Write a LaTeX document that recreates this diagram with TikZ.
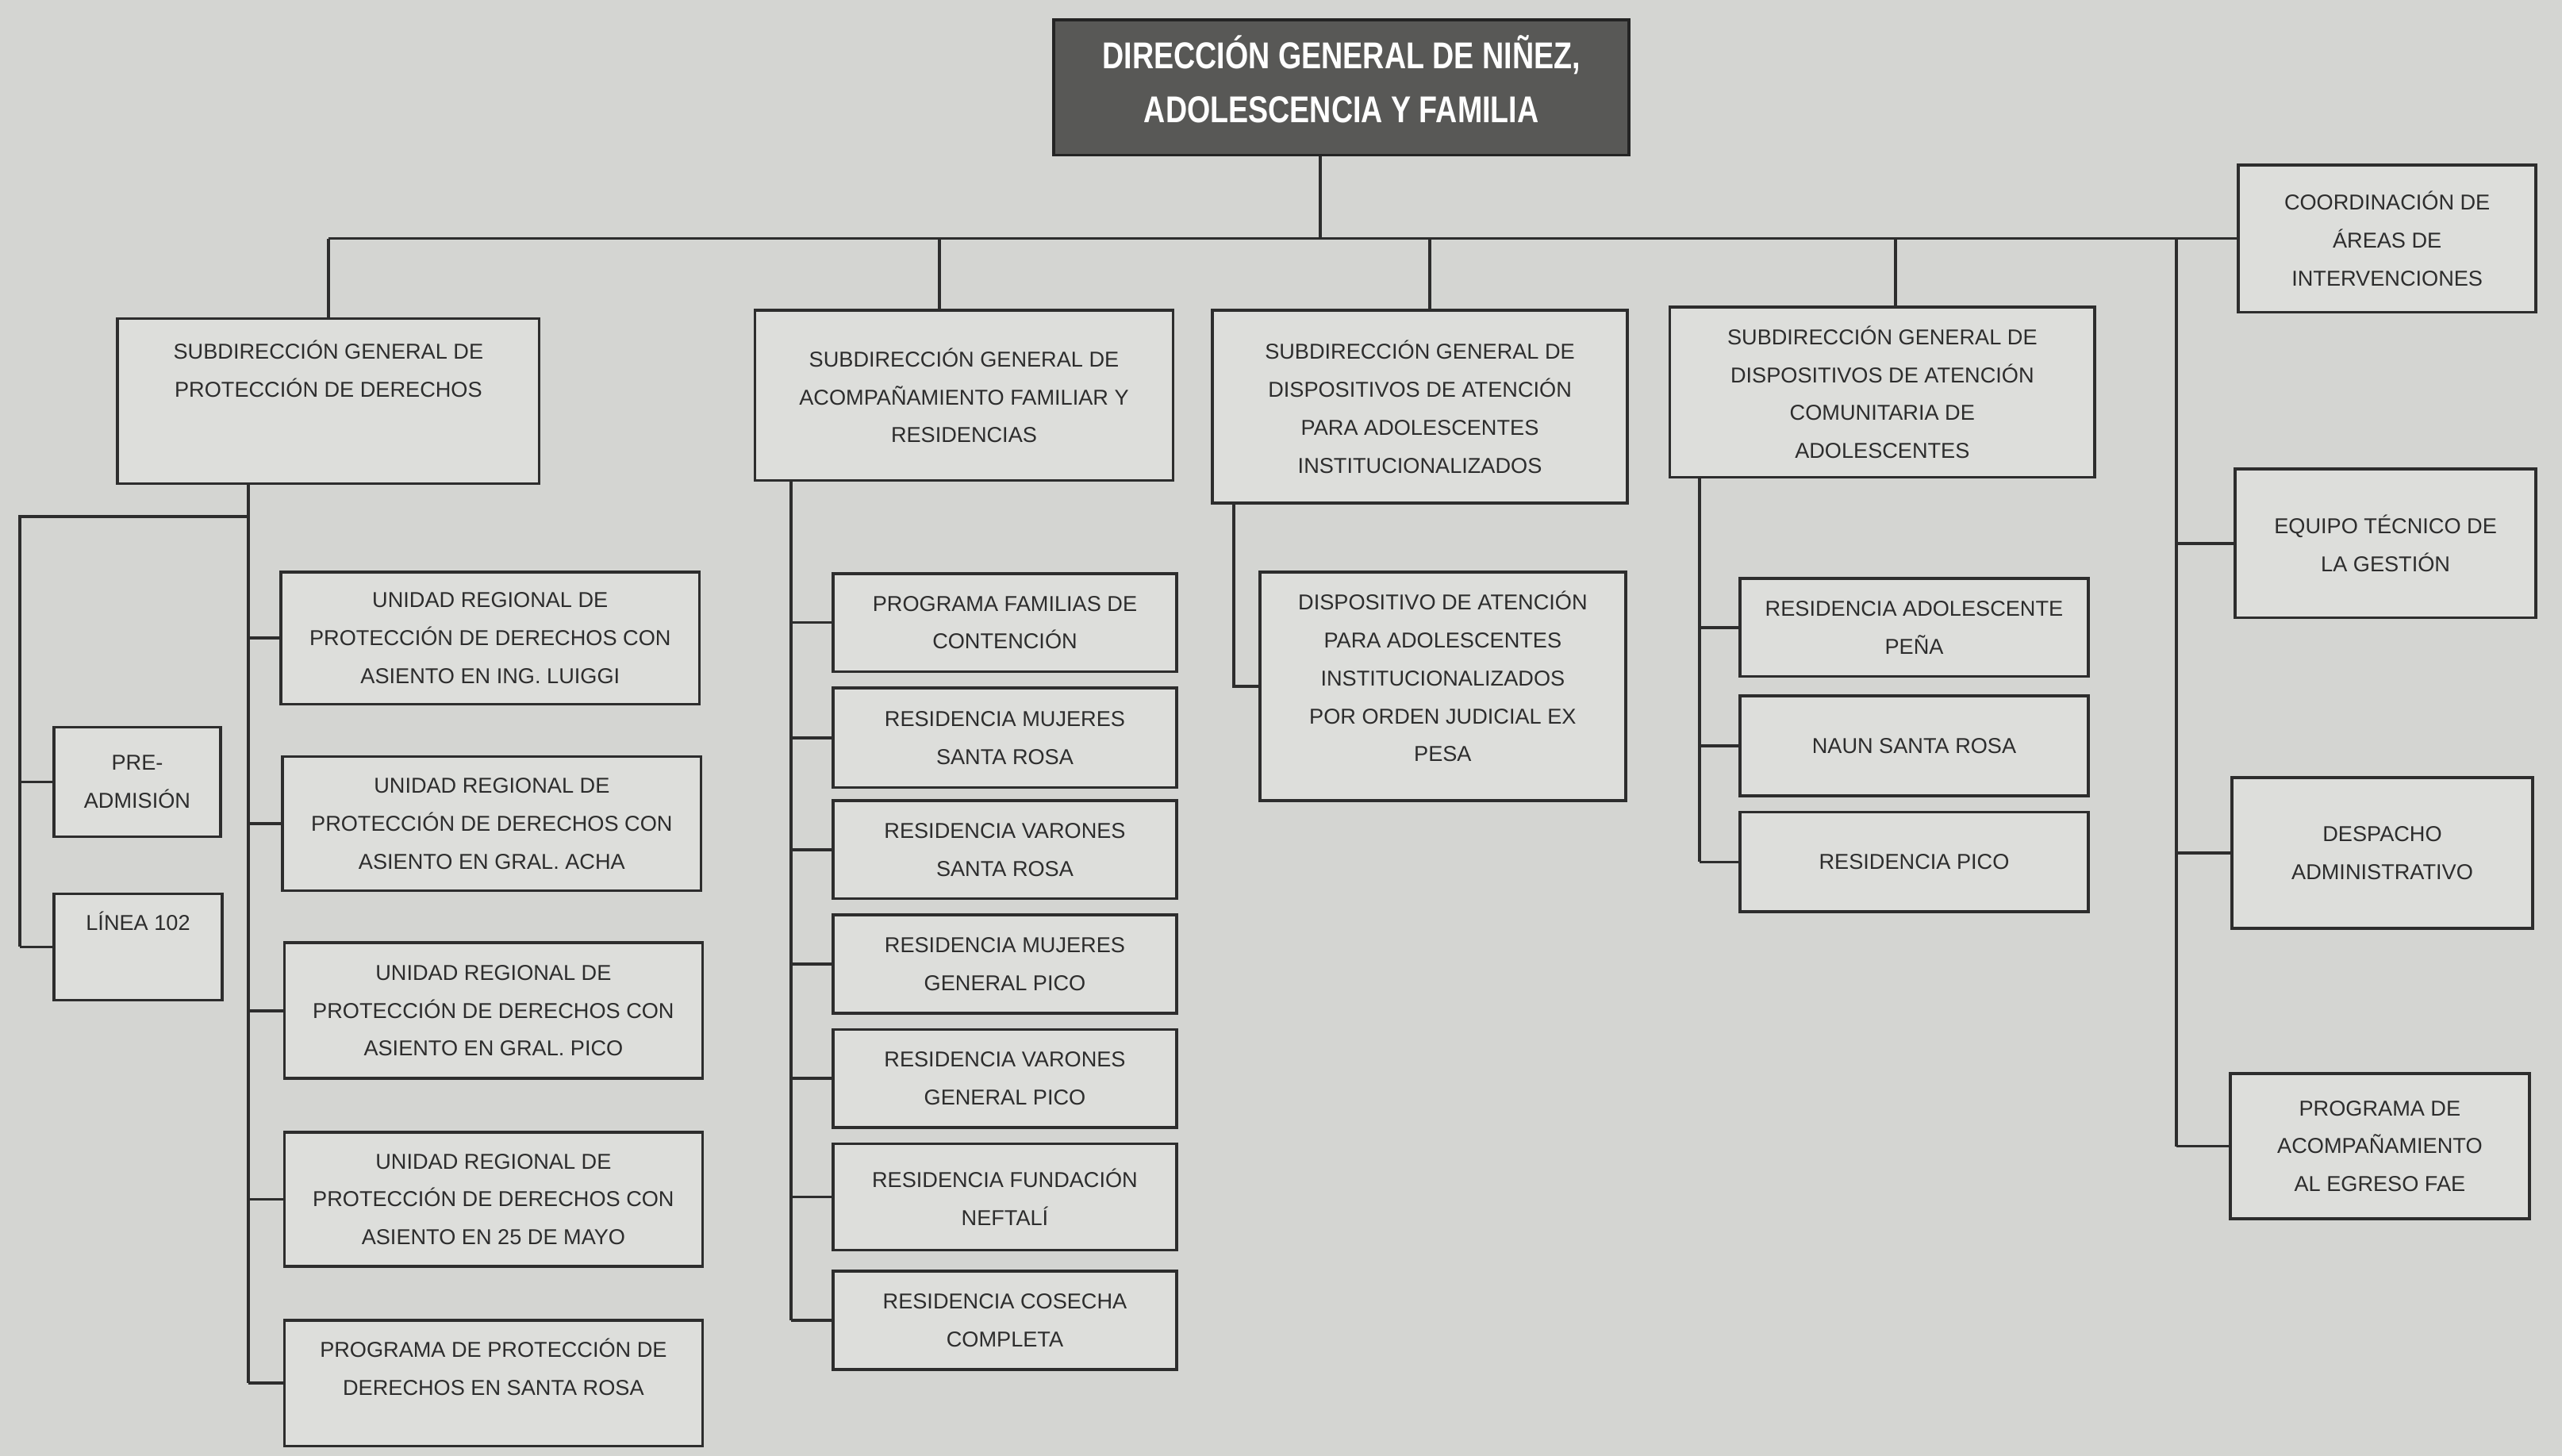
\documentclass[tikz,border=0pt]{standalone}
\usepackage{fontspec}
\setmainfont{Liberation Sans}
\newfontfamily\headfont[FakeStretch=0.8]{Liberation Sans}
\definecolor{paper}{RGB}{212,213,210}
\definecolor{boxfill}{RGB}{221,222,219}
\definecolor{ink}{RGB}{45,45,45}
\definecolor{headfill}{RGB}{88,88,86}
\begin{document}
\begin{tikzpicture}[x=0.2mm, y=-0.2mm, line width=1pt,
  unit/.style={draw=ink, fill=boxfill, align=center, inner sep=0pt,
    text=ink, font=\fontsize{7.5}{13.2}\selectfont},
  size/.style 2 args={minimum width=#1*0.2mm, minimum height=#2*0.2mm},
  link/.style={draw=ink}]
%--- Paper ---
\fill[paper] (0,0) rectangle (1568,891);
\useasboundingbox (0,0) rectangle (1568,891);
\coordinate (bus) at (0,146);
%--- Head of the chart ---
\node[draw=ink!80!black, fill=headfill, size={352}{83}, align=center, text=white,
  text depth=10*0.2mm,
  font=\headfont\bfseries\fontsize{13}{18.8}\selectfont] (dirgen) at (821,53.5)
  {DIRECCIÓN GENERAL DE NIÑEZ,\\ADOLESCENCIA Y FAMILIA};
%--- Subdirecciones ---
\node[unit, size={258}{101}, text depth=40*0.2mm] (subprot) at (201,245.5)
  {SUBDIRECCIÓN GENERAL DE\\PROTECCIÓN DE DERECHOS};
\node[unit, size={256}{104}] (subacomp) at (590,242)
  {SUBDIRECCIÓN GENERAL DE\\ACOMPAÑAMIENTO FAMILIAR Y\\RESIDENCIAS};
\node[unit, size={254}{118}] (subinst) at (869,249)
  {SUBDIRECCIÓN GENERAL DE\\DISPOSITIVOS DE ATENCIÓN\\PARA ADOLESCENTES\\INSTITUCIONALIZADOS};
\node[unit, size={260}{104}] (subcom) at (1152,240)
  {SUBDIRECCIÓN GENERAL DE\\DISPOSITIVOS DE ATENCIÓN\\COMUNITARIA DE\\ADOLESCENTES};
%--- Right column ---
\node[unit, size={182}{90}] (coord) at (1461,146)
  {COORDINACIÓN DE\\ÁREAS DE\\INTERVENCIONES};
\node[unit, size={184}{91}] (equipo) at (1460,332.5)
  {EQUIPO TÉCNICO DE\\LA GESTIÓN};
\node[unit, size={184}{92}] (despacho) at (1458,522)
  {DESPACHO\\ADMINISTRATIVO};
\node[unit, size={183}{89}] (progegreso) at (1456.5,701.5)
  {PROGRAMA DE\\ACOMPAÑAMIENTO\\AL EGRESO FAE};
%--- Protección de derechos ---
\node[unit, size={256}{81}] (uriluiggi) at (300,390.5)
  {UNIDAD REGIONAL DE\\PROTECCIÓN DE DERECHOS CON\\ASIENTO EN ING. LUIGGI};
\node[unit, size={256}{82}] (uracha) at (301,504)
  {UNIDAD REGIONAL DE\\PROTECCIÓN DE DERECHOS CON\\ASIENTO EN GRAL. ACHA};
\node[unit, size={256}{83}] (urpico) at (302,618.5)
  {UNIDAD REGIONAL DE\\PROTECCIÓN DE DERECHOS CON\\ASIENTO EN GRAL. PICO};
\node[unit, size={256}{82}] (urmayo) at (302,734)
  {UNIDAD REGIONAL DE\\PROTECCIÓN DE DERECHOS CON\\ASIENTO EN 25 DE MAYO};
\node[unit, size={256}{77}, text depth=20*0.2mm] (progsr) at (302,846.5)
  {PROGRAMA DE PROTECCIÓN DE\\DERECHOS EN SANTA ROSA};
\node[unit, size={102}{67}] (preadm) at (84,478.5) {PRE-\\ADMISIÓN};
\node[unit, size={103}{65}, text depth=32*0.2mm] (linea) at (84.5,579.5) {LÍNEA 102};
%--- Acompañamiento familiar y residencias ---
\node[unit, size={210}{60}] (famcont) at (615,381) {PROGRAMA FAMILIAS DE\\CONTENCIÓN};
\node[unit, size={210}{61}] (resmsr) at (615,451.5) {RESIDENCIA MUJERES\\SANTA ROSA};
\node[unit, size={210}{60}] (resvsr) at (615,520) {RESIDENCIA VARONES\\SANTA ROSA};
\node[unit, size={210}{60}] (resmgp) at (615,590) {RESIDENCIA MUJERES\\GENERAL PICO};
\node[unit, size={210}{60}] (resvgp) at (615,660) {RESIDENCIA VARONES\\GENERAL PICO};
\node[unit, size={210}{65}] (resfund) at (615,732.5) {RESIDENCIA FUNDACIÓN\\NEFTALÍ};
\node[unit, size={210}{60}] (rescos) at (615,808) {RESIDENCIA COSECHA\\COMPLETA};
%--- Adolescentes institucionalizados ---
\node[unit, size={224}{140}, text depth=12*0.2mm] (dispjud) at (883,420)
  {DISPOSITIVO DE ATENCIÓN\\PARA ADOLESCENTES\\INSTITUCIONALIZADOS\\POR ORDEN JUDICIAL EX\\PESA};
%--- Atención comunitaria ---
\node[unit, size={213}{60}] (resadol) at (1171.5,384) {RESIDENCIA ADOLESCENTE\\PEÑA};
\node[unit, size={213}{61}] (naun) at (1171.5,456.5) {NAUN SANTA ROSA};
\node[unit, size={213}{61}] (respico) at (1171.5,527.5) {RESIDENCIA PICO};
%--- Connectors ---
\coordinate (protspine) at (152,0);
\coordinate (leftspine) at (12,316);
\coordinate (acompspine) at (484,0);
\coordinate (instspine) at (755,0);
\coordinate (comspine) at (1040,0);
\coordinate (rightspine) at (1332,0);
\draw[link] ([xshift=-2.6mm]dirgen.south) -- ([xshift=-2.6mm]dirgen.south |- bus);
\draw[link] (subprot.north |- bus) -- (coord.west);
\draw[link] (subprot.north |- bus) -- (subprot.north);
\draw[link] ([xshift=-3mm]subacomp.north |- bus) -- ([xshift=-3mm]subacomp.north);
\draw[link] ([xshift=1.2mm]subinst.north |- bus) -- ([xshift=1.2mm]subinst.north);
\draw[link] ([xshift=1.6mm]subcom.north |- bus) -- ([xshift=1.6mm]subcom.north);
% right column
\draw[link] (rightspine |- bus) -- (rightspine |- progegreso.west);
\foreach \n in {equipo,despacho,progegreso}
  \draw[link] (rightspine |- \n.west) -- (\n.west);
% protección
\draw[link] (protspine |- subprot.south) -- (protspine |- progsr.west);
\foreach \n in {uriluiggi,uracha,urpico,urmayo,progsr}
  \draw[link] (protspine |- \n.west) -- (\n.west);
\draw[link] (protspine |- leftspine) -- (leftspine) -- (leftspine |- linea.west);
\foreach \n in {preadm,linea}
  \draw[link] (leftspine |- \n.west) -- (\n.west);
% acompañamiento
\draw[link] (acompspine |- subacomp.south) -- (acompspine |- rescos.west);
\foreach \n in {famcont,resmsr,resvsr,resmgp,resvgp,resfund,rescos}
  \draw[link] (acompspine |- \n.west) -- (\n.west);
% institucionalizados
\draw[link] (instspine |- subinst.south) -- (instspine |- dispjud.west) -- (dispjud.west);
% comunitaria
\draw[link] (comspine |- subcom.south) -- (comspine |- respico.west);
\foreach \n in {resadol,naun,respico}
  \draw[link] (comspine |- \n.west) -- (\n.west);
\end{tikzpicture}
\end{document}
